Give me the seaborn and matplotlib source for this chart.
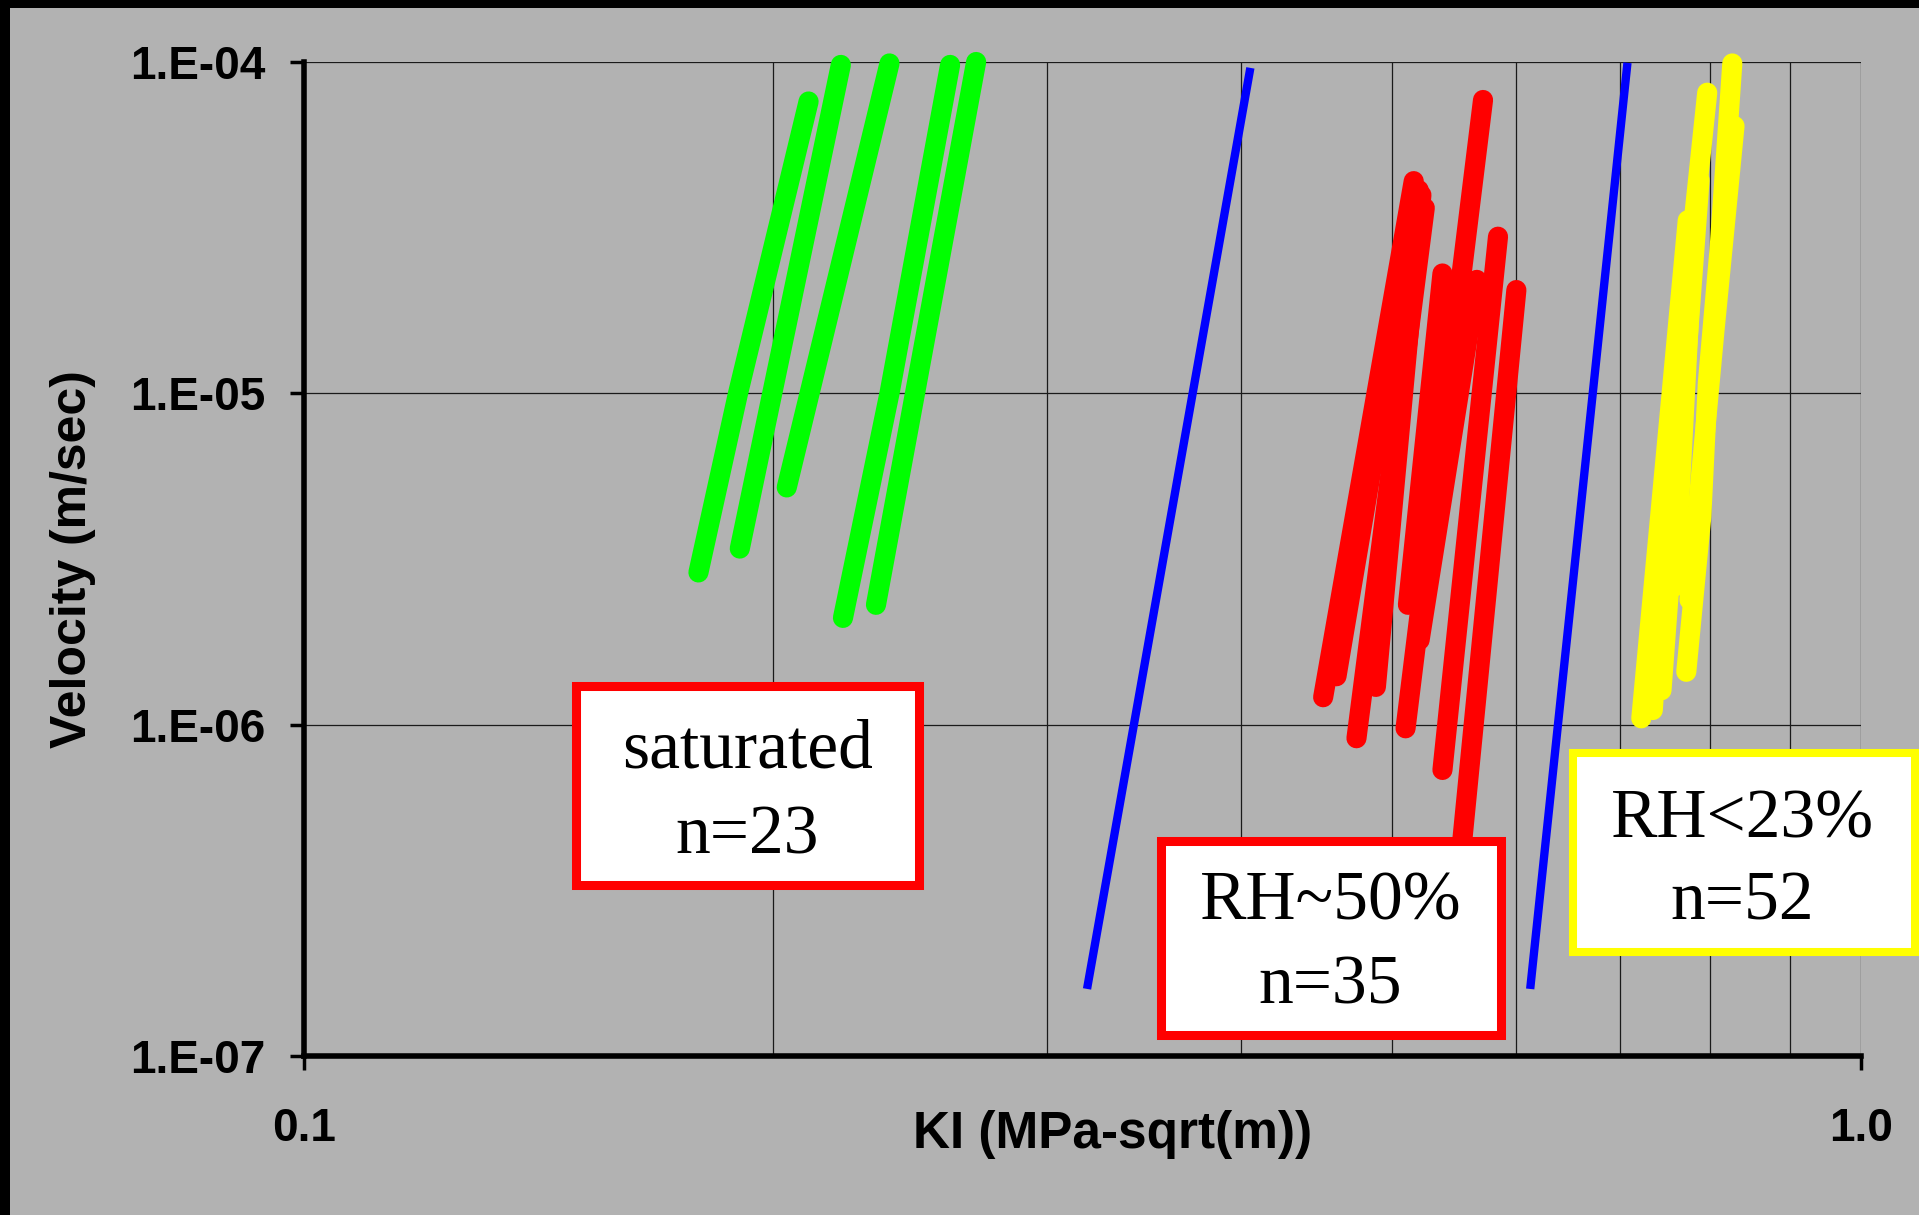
import numpy as np
import pandas as pd
import matplotlib
matplotlib.use("Agg")
import matplotlib.pyplot as plt
import seaborn as sns
from matplotlib.patches import Rectangle
from matplotlib.ticker import FixedLocator, FuncFormatter, NullLocator, NullFormatter

# ---- crack-growth curves: stress intensity KI (MPa*sqrt(m)) vs velocity (m/s) ----
# saturated specimens
sat_K = [
    [0.1792, 0.1900, 0.2109],
    [0.1905, 0.2212],
    [0.2042, 0.2377],
    [0.2219, 0.2377, 0.2600],
    [0.2330, 0.2702],
]
sat_V = [
    [2.88e-6, 1.0e-5, 7.6e-5],
    [3.4e-6, 9.8e-5],
    [5.2e-6, 9.9e-5],
    [2.1e-6, 1.0e-5, 9.8e-5],
    [2.3e-6, 1.0e-4],
]

# RH ~ 50 % specimens
rh50_K = [
    [0.4514, 0.5161],
    [0.4604, 0.5199],
    [0.4880, 0.5220],
    [0.4742, 0.5246],
    [0.5117, 0.5385],
    [0.5206, 0.5666],
    [0.5099, 0.5718],
    [0.5385, 0.5846],
    [0.5538, 0.6007],
]
rh50_V = [
    [1.21e-6, 4.37e-5],
    [1.40e-6, 4.11e-5],
    [1.30e-6, 3.97e-5],
    [9.1e-7, 3.63e-5],
    [2.30e-6, 2.30e-5],
    [1.80e-6, 2.20e-5],
    [9.75e-7, 7.68e-5],
    [7.3e-7, 2.97e-5],
    [4.2e-7, 2.05e-5],
]

# RH < 23 % specimens
rh23_K = [
    [0.8267, 0.8112, 0.7973, 0.7896, 0.7723],
    [0.7966, 0.7818, 0.7591],
    [0.8294, 0.8052, 0.7760],
    [0.7740, 0.7478, 0.7226],
    [0.7783, 0.7512, 0.7350],
    [0.7876, 0.7445],
]
rh23_V = [
    [9.9e-5, 2.71e-5, 1.074e-5, 4.23e-6, 1.444e-6],
    [8.08e-5, 3.50e-5, 2.61e-6],
    [6.41e-5, 1.55e-5, 2.38e-6],
    [3.33e-5, 5.87e-6, 1.045e-6],
    [3.00e-5, 5.47e-6, 1.107e-6],
    [4.40e-5, 1.27e-6],
]

# reference power-law lines
ref_K = [[0.3187, 0.4049], [0.6135, 0.7075]]
ref_V = [[1.64e-7, 9.33e-5], [1.64e-7, 9.66e-5]]

# annotation boxes
box_lines = [["saturated", "n=23"], ["RH~50%", "n=35"], ["RH<23%", "n=52"]]


def to_frame(Ks, Vs, tag):
    rows = []
    for i, (ks, vs) in enumerate(zip(Ks, Vs)):
        for k, v in zip(ks, vs):
            rows.append((f"{tag}{i}", k, v))
    return pd.DataFrame(rows, columns=["specimen", "KI", "V"])


W, H = 1919, 1215
BG = "#b2b2b2"

plt.rcParams["font.family"] = ["Liberation Sans", "DejaVu Sans"]
plt.rcParams["font.weight"] = "bold"

fig = plt.figure(figsize=(W / 100, H / 100), dpi=100, facecolor=BG)

# dark frame strips along the top and left edges
fig.add_artist(Rectangle((0, 1 - 8 / H), 1, 8 / H, transform=fig.transFigure,
                         facecolor="black", edgecolor="none", zorder=0))
fig.add_artist(Rectangle((0, 0), 10 / W, 1, transform=fig.transFigure,
                         facecolor="black", edgecolor="none", zorder=0))

ax_l, ax_r, ax_t, ax_b = 304, 1861, 62, 1056
ax = fig.add_axes([ax_l / W, 1 - ax_b / H, (ax_r - ax_l) / W, (ax_b - ax_t) / H])
ax.set_facecolor(BG)
ax.set_xscale("log")
ax.set_yscale("log")
ax.set_xlim(0.1, 1.0)
ax.set_ylim(1e-7, 1e-4)

groups = [
    (sat_K, sat_V, "#00ff00", "s"),
    (rh50_K, rh50_V, "#ff0000", "m"),
    (rh23_K, rh23_V, "#ffff00", "d"),
]
for Ks, Vs, col, tag in groups:
    df = to_frame(Ks, Vs, tag)
    sns.lineplot(data=df, x="KI", y="V", units="specimen", estimator=None,
                 sort=False, color=col, linewidth=14.5, solid_capstyle="round",
                 solid_joinstyle="round", clip_on=False, legend=False, ax=ax,
                 zorder=3)

ref_df = to_frame(ref_K, ref_V, "r")
sns.lineplot(data=ref_df, x="KI", y="V", units="specimen", estimator=None,
             sort=False, color="#0000ff", linewidth=6, legend=False, ax=ax,
             zorder=3)

# axes, ticks and grid
ax.xaxis.set_major_locator(FixedLocator([0.1, 1.0]))
ax.xaxis.set_major_formatter(FuncFormatter(lambda v, p: f"{v:.1f}"))
ax.xaxis.set_minor_locator(FixedLocator([0.2, 0.3, 0.4, 0.5, 0.6, 0.7, 0.8, 0.9]))
ax.xaxis.set_minor_formatter(NullFormatter())
ax.yaxis.set_major_locator(FixedLocator([1e-7, 1e-6, 1e-5, 1e-4]))
ax.yaxis.set_major_formatter(
    FuncFormatter(lambda v, p: f"1.E-{int(round(-np.log10(v))):02d}"))
ax.yaxis.set_minor_locator(NullLocator())

ax.grid(which="major", axis="both", color="#1a1a1a", linewidth=0.9)
ax.grid(which="minor", axis="x", color="#1a1a1a", linewidth=0.9)
ax.set_axisbelow(True)

for side in ("top", "right"):
    ax.spines[side].set_visible(False)
for side in ("left", "bottom"):
    ax.spines[side].set_linewidth(4)
    ax.spines[side].set_color("black")

ax.tick_params(axis="y", which="major", direction="out", length=10, width=2.5,
               pad=18, labelsize=33, colors="black")
ax.tick_params(axis="x", which="major", direction="out", length=10, width=2.5,
               pad=27, labelsize=33, colors="black")
ax.tick_params(axis="x", which="minor", length=0)

ax.set_xlabel("KI (MPa-sqrt(m))", fontsize=37, fontweight="bold")
ax.xaxis.set_label_coords(0.519, -0.0926)
ax.xaxis.label.set_va("baseline")
ax.set_ylabel("Velocity (m/sec)", fontsize=36, fontweight="bold")
ax.yaxis.set_label_coords(-0.1483, 0.5)
ax.yaxis.label.set_va("center")

# annotation boxes (pixel geometry, top-left origin)
boxes = [
    ((576.2, 686.2, 918.8, 884.8), "#ff0000", 6.5, 747.5, (768, 853)),
    ((1160.8, 840.5, 1501.0, 1034.5), "#ff0000", 6.5, 1330.5, (920, 1004)),
    ((1573.3, 753.3, 1915.0, 952.0), "#ffff00", 5.8, 1742.5, (837, 920)),
]
for ((x0, y0, x1, y1), ec, lw, cx, baselines), lines in zip(boxes, box_lines):
    fig.add_artist(Rectangle((x0 / W, 1 - y1 / H), (x1 - x0) / W, (y1 - y0) / H,
                             transform=fig.transFigure, facecolor="white",
                             edgecolor=ec, linewidth=lw, zorder=5))
    for txt, yb in zip(lines, baselines):
        fig.text(cx / W, 1 - yb / H, txt, ha="center", va="baseline",
                 fontsize=50, fontweight="normal",
                 family=["Liberation Serif", "DejaVu Serif"], color="black",
                 zorder=6)

fig.savefig("out.png", dpi=100, facecolor=BG)
